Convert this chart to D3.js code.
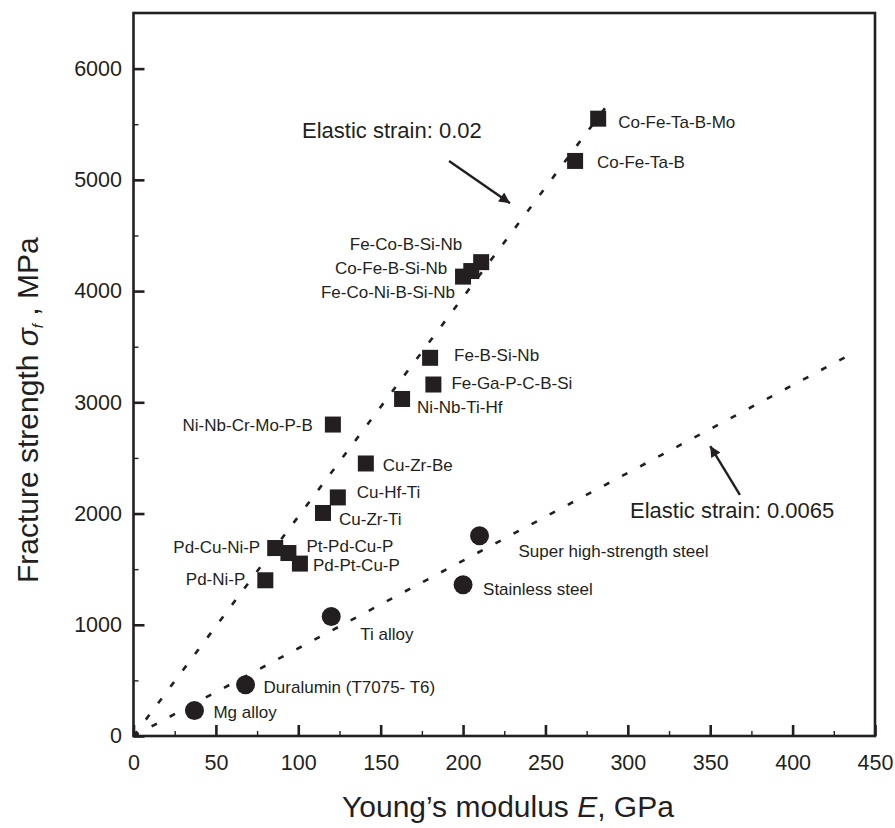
<!DOCTYPE html>
<html>
<head>
<meta charset="utf-8">
<script src="https://cdn.jsdelivr.net/npm/d3@7"></script>
<style>
  body { margin: 0; background: #fff; }
  text { font-family: "Liberation Sans", Arial, Helvetica, sans-serif; fill: #231f20; }
</style>
</head>
<body>
<div id="chart"></div>
<script>
// bulk metallic glasses (squares)
var bmgNames = ["Co-Fe-Ta-B-Mo", "Co-Fe-Ta-B", "Fe-Co-B-Si-Nb", "Co-Fe-B-Si-Nb", "Fe-Co-Ni-B-Si-Nb",
    "Fe-B-Si-Nb", "Fe-Ga-P-C-B-Si", "Ni-Nb-Ti-Hf", "Ni-Nb-Cr-Mo-P-B", "Cu-Zr-Be", "Cu-Hf-Ti",
    "Cu-Zr-Ti", "Pd-Cu-Ni-P", "Pt-Pd-Cu-P", "Pd-Pt-Cu-P", "Pd-Ni-P"];
var bmgModulus = [282, 268, 211, 205, 200, 180, 182, 163, 121, 141, 124, 115, 86, 94, 101, 80];
var bmgStrength = [5550, 5170, 4260, 4180, 4130, 3400, 3160, 3030, 2800, 2450, 2145, 2005, 1690, 1645, 1550, 1400];

// crystalline alloys (circles)
var alloyNames = ["Ti alloy", "Duralumin (T7075- T6)", "Mg alloy", "Super high-strength steel", "Stainless steel"];
var alloyModulus = [120, 68, 37, 210, 200];
var alloyStrength = [1075, 460, 230, 1800, 1360];

// elastic strain guide lines, end points
var strainLineHigh = [[0, 0], [291, 5740]];
var strainLineLow = [[0, 0], [435, 3430]];

var xTicks = [0, 50, 100, 150, 200, 250, 300, 350, 400, 450];
var yTicks = [0, 1000, 2000, 3000, 4000, 5000, 6000];

// label offsets in px from the marker centre: [dx, dy, anchor]
var labelPos = {
    "Co-Fe-Ta-B-Mo": [20, 9, "start"],
    "Co-Fe-Ta-B": [22, 7, "start"],
    "Fe-Co-B-Si-Nb": [-19, -12, "end"],
    "Co-Fe-B-Si-Nb": [-24, 3, "end"],
    "Fe-Co-Ni-B-Si-Nb": [-8, 21, "end"],
    "Fe-B-Si-Nb": [24, 3, "start"],
    "Fe-Ga-P-C-B-Si": [18, 4, "start"],
    "Ni-Nb-Ti-Hf": [15, 14, "start"],
    "Ni-Nb-Cr-Mo-P-B": [-20, 6, "end"],
    "Cu-Zr-Be": [17, 8, "start"],
    "Cu-Hf-Ti": [19, 1, "start"],
    "Cu-Zr-Ti": [16, 12, "start"],
    "Pd-Cu-Ni-P": [-15, 5, "end"],
    "Pt-Pd-Cu-P": [18, -1, "start"],
    "Pd-Pt-Cu-P": [13, 7, "start"],
    "Pd-Ni-P": [-20, 5, "end"],
    "Ti alloy": [29, 24, "start"],
    "Duralumin (T7075- T6)": [18, 8, "start"],
    "Mg alloy": [19, 8, "start"],
    "Super high-strength steel": [39, 21, "start"],
    "Stainless steel": [20, 10, "start"]
};

var ink = "#231f20";
var width = 895, height = 828;
var margin = {top: 13, right: 20, bottom: 92, left: 133.5};

var svg = d3.select("#chart").append("svg")
    .attr("width", width)
    .attr("height", height);

var x = d3.scaleLinear().domain([0, 450]).range([margin.left, 875]);
var y = d3.scaleLinear().domain([0, 6500]).range([736, margin.top]);

// ticks (inside the frame)
var xMinor = d3.range(25, 450, 50);
var yMinor = d3.range(500, 6500, 1000);

svg.append("g")
    .attr("transform", "translate(0,736)")
    .call(d3.axisBottom(x).tickValues(xMinor).tickSize(-5).tickFormat(""))
    .call(function(g) { g.select(".domain").remove(); g.selectAll("line").attr("stroke", ink).attr("stroke-width", 1.4); });

svg.append("g")
    .attr("transform", "translate(" + margin.left + ",0)")
    .call(d3.axisLeft(y).tickValues(yMinor).tickSize(-5).tickFormat(""))
    .call(function(g) { g.select(".domain").remove(); g.selectAll("line").attr("stroke", ink).attr("stroke-width", 1.4); });

svg.append("g")
    .attr("transform", "translate(0,736)")
    .call(d3.axisBottom(x).tickValues(xTicks).tickSizeInner(-11).tickSizeOuter(0).tickPadding(19).tickFormat(d3.format("d")))
    .call(function(g) {
        g.select(".domain").remove();
        g.selectAll("line").attr("stroke", ink).attr("stroke-width", 2.6);
        g.selectAll("text").attr("font-size", "21.5px").attr("fill", ink)
            .style("font-family", "'Liberation Sans', Arial, sans-serif");
    });

svg.append("g")
    .attr("transform", "translate(" + margin.left + ",0)")
    .call(d3.axisLeft(y).tickValues(yTicks).tickSizeInner(-11).tickSizeOuter(0).tickPadding(11.5).tickFormat(d3.format("d")))
    .call(function(g) {
        g.select(".domain").remove();
        g.selectAll("line").attr("stroke", ink).attr("stroke-width", 2.6);
        g.selectAll("text").attr("font-size", "21.5px").attr("fill", ink)
            .style("font-family", "'Liberation Sans', Arial, sans-serif");
    });

// frame
svg.append("rect")
    .attr("x", x(0)).attr("y", y(6500))
    .attr("width", x(450) - x(0)).attr("height", y(0) - y(6500))
    .attr("fill", "none").attr("stroke", ink).attr("stroke-width", 2.6);

// guide lines
var line = d3.line().x(function(d) { return x(d[0]); }).y(function(d) { return y(d[1]); });
[strainLineHigh, strainLineLow].forEach(function(pts) {
    svg.append("path")
        .attr("d", line(pts))
        .attr("fill", "none")
        .attr("stroke", ink)
        .attr("stroke-width", 2.6)
        .attr("stroke-dasharray", "6,14.5");
});

// markers
var bmg = bmgNames.map(function(n, i) { return {name: n, E: bmgModulus[i], s: bmgStrength[i]}; });
var alloys = alloyNames.map(function(n, i) { return {name: n, E: alloyModulus[i], s: alloyStrength[i]}; });
var sq = 16;

svg.append("g").selectAll("rect")
    .data(bmg).enter().append("rect")
    .attr("x", function(d) { return x(d.E) - sq / 2; })
    .attr("y", function(d) { return y(d.s) - sq / 2; })
    .attr("width", sq).attr("height", sq)
    .attr("fill", ink);

svg.append("g").selectAll("circle")
    .data(alloys).enter().append("circle")
    .attr("cx", function(d) { return x(d.E); })
    .attr("cy", function(d) { return y(d.s); })
    .attr("r", 9.5)
    .attr("fill", ink);

svg.append("g").selectAll("text")
    .data(bmg.concat(alloys)).enter().append("text")
    .attr("x", function(d) { return x(d.E) + labelPos[d.name][0]; })
    .attr("y", function(d) { return y(d.s) + labelPos[d.name][1]; })
    .attr("text-anchor", function(d) { return labelPos[d.name][2]; })
    .attr("font-size", "17px")
    .text(function(d) { return d.name; });

// annotation arrows
svg.append("defs").append("marker")
    .attr("id", "head")
    .attr("viewBox", "0 0 10 10")
    .attr("refX", 10).attr("refY", 5)
    .attr("markerWidth", 6.5).attr("markerHeight", 4.5)
    .attr("markerUnits", "strokeWidth")
    .attr("orient", "auto")
    .append("path").attr("d", "M0,0L10,5L0,10z").attr("fill", ink);

var arrows = [
    {from: [191.5, 5170], to: [228.5, 4790]},
    {from: [368, 2167], to: [350, 2607]}
];
arrows.forEach(function(a) {
    svg.append("line")
        .attr("x1", x(a.from[0])).attr("y1", y(a.from[1]))
        .attr("x2", x(a.to[0])).attr("y2", y(a.to[1]))
        .attr("stroke", ink).attr("stroke-width", 2.4)
        .attr("marker-end", "url(#head)");
});

svg.append("text").attr("x", 302).attr("y", 138).attr("font-size", "22px").text("Elastic strain: 0.02");
svg.append("text").attr("x", 630).attr("y", 518).attr("font-size", "22px").text("Elastic strain: 0.0065");

// axis titles
var xt = svg.append("text").attr("x", 342).attr("y", 817).attr("font-size", "30px");
xt.append("tspan").text("Young\u2019s modulus ");
xt.append("tspan").attr("font-style", "italic").text("E");
xt.append("tspan").text(", GPa");

var yt = svg.append("text")
    .attr("transform", "translate(38,583) rotate(-90)")
    .attr("font-size", "30px");
yt.append("tspan").text("Fracture strength ");
yt.append("tspan").attr("font-style", "italic").text("\u03c3");
yt.append("tspan").attr("font-style", "italic").attr("font-size", "15px").attr("dy", 5).text("f");
yt.append("tspan").attr("dy", -5).text(" , MPa");
</script>
</body>
</html>
